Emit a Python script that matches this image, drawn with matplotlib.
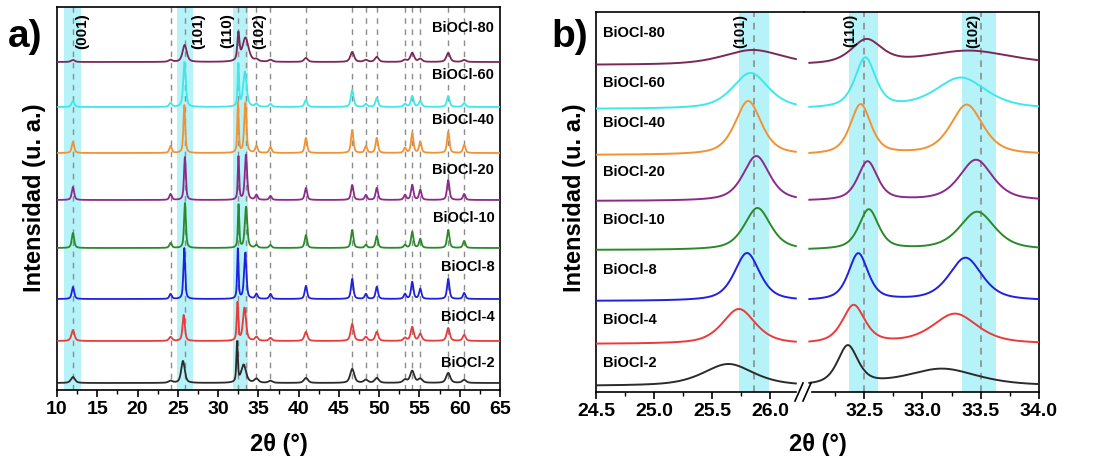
"""
XRD patterns of BiOCl samples: full range (a) and zoom on main reflections (b).
"""
import numpy as np
import matplotlib
matplotlib.use('Agg')
import matplotlib.pyplot as plt
from matplotlib.ticker import MultipleLocator, FixedLocator
from matplotlib.lines import Line2D

plt.rcParams['font.family'] = ['Liberation Sans', 'DejaVu Sans']
plt.rcParams['font.weight'] = 'bold'

SAMPLES = ['BiOCl-2', 'BiOCl-4', 'BiOCl-8', 'BiOCl-10',
           'BiOCl-20', 'BiOCl-40', 'BiOCl-60', 'BiOCl-80']
COLORS = ['#2b2b2b', '#ec3a3a', '#2020e0', '#2a8a2a',
          '#8b2a8b', '#f39232', '#3ee8ea', '#7b2859']

# reference reflections (2theta, deg)
REF_POS = [11.98, 24.10, 25.86, 32.50, 33.45, 34.76, 36.50, 40.90,
           46.65, 48.35, 49.70, 53.20, 54.10, 55.10, 58.57, 60.55]
# highlighted reflections in panel a
HKL_A = ['(001)', '(101)', '(110)', '(102)']
HKL_A_POS = [13.1, 27.55, 31.15, 35.15]
BANDS_A = [(10.9, 13.0), (24.85, 26.9), (31.8, 33.75)]

# main peak positions per sample
POS_101 = [25.64, 25.73, 25.80, 25.89, 25.88, 25.81, 25.83, 25.85]
POS_110 = [32.36, 32.41, 32.45, 32.54, 32.53, 32.47, 32.51, 32.52]
POS_102 = [33.17, 33.28, 33.37, 33.47, 33.46, 33.38, 33.33, 33.40]
# FWHM of the main peaks (deg)
W_101 = [0.52, 0.34, 0.26, 0.27, 0.27, 0.27, 0.37, 0.62]
W_110 = [0.21, 0.23, 0.20, 0.20, 0.20, 0.21, 0.21, 0.31]
W_102 = [0.72, 0.46, 0.34, 0.36, 0.34, 0.33, 0.52, 0.89]
# FWHM of the other reflections (deg)
W_OTHER = [0.60, 0.45, 0.35, 0.35, 0.35, 0.35, 0.40, 0.55]

# panel a peak heights (a.u.), same order as REF_POS
INT_A_2 = [6, 2, 22, 40, 18, 4, 2, 5, 14, 3, 5, 3, 12, 4, 10, 3]
INT_A_4 = [11, 4, 26, 38, 33, 4, 3, 9, 17, 4, 9, 3, 14, 7, 13, 6]
INT_A_8 = [12, 5, 51, 50, 46, 5, 5, 13, 20, 5, 12, 5, 17, 10, 20, 6]
INT_A_10 = [15, 5, 45, 43, 41, 3, 3, 13, 18, 3, 12, 3, 16, 9, 18, 7]
INT_A_20 = [13, 6, 43, 43, 45, 5, 4, 12, 15, 5, 12, 5, 15, 10, 20, 6]
INT_A_40 = [11, 7, 48, 50, 50, 7, 6, 15, 23, 7, 15, 5, 20, 11, 21, 8]
INT_A_60 = [6, 4, 45, 42, 35, 3, 3, 7, 17, 3, 9, 3, 11, 6, 11, 4]
INT_A_80 = [2, 2, 17, 27, 24, 2, 2, 4, 10, 2, 5, 2, 9, 3, 9, 2]
INT_A = [INT_A_2, INT_A_4, INT_A_8, INT_A_10, INT_A_20, INT_A_40, INT_A_60, INT_A_80]

# panel b peak heights (a.u.)
H_101 = [22, 35, 48, 42, 45, 54, 36, 15]
H_110 = [39, 38, 47, 40, 39, 50, 50, 24]
H_102 = [17, 30, 43, 38, 41, 50, 31, 14]
HKL_B_LEFT = [('(101)', 25.74)]
HKL_B_RIGHT = [('(110)', 32.38), ('(102)', 33.44)]
REF_B = [25.86, 32.50, 33.50]
BANDS_B = [(25.73, 25.99), (32.37, 32.62), (33.34, 33.63)]

# vertical stacking
OFFSETS_A = [7, 49, 91, 142, 190, 237, 283, 328]
OFFSETS_B = [6, 48, 91, 142, 191, 237, 283, 327]
LABEL_Y_A = [27, 73, 123, 172, 220, 270, 315, 362]
LABEL_Y_B = [29, 72, 122, 172, 220, 269, 309, 359]

BAND_COLOR = '#b6f3f8'
DASH_COLOR = '#8c8c8c'


def pseudo_voigt(x, x0, h, fwhm, eta=0.6):
    d = (x - x0) / (fwhm / 2.0)
    return h * (eta / (1 + d ** 2) + (1 - eta) * np.exp(-np.log(2) * d ** 2))


def pattern_a(x, i):
    pos = list(REF_POS)
    pos[2], pos[3], pos[4] = POS_101[i], POS_110[i], POS_102[i]
    widths = [W_OTHER[i]] * len(pos)
    widths[2], widths[3], widths[4] = W_101[i], W_110[i], W_102[i]
    y = np.zeros_like(x)
    for p, h, w in zip(pos, INT_A[i], widths):
        y += pseudo_voigt(x, p, h, w)
    return y


def pattern_b(x, i):
    y = pseudo_voigt(x, POS_101[i], H_101[i], W_101[i])
    y += pseudo_voigt(x, POS_110[i], H_110[i], W_110[i])
    y += pseudo_voigt(x, POS_102[i], H_102[i], W_102[i])
    return y


def style_axis(ax):
    ax.set_yticks([])
    ax.tick_params(axis='x', which='major', direction='out', length=5, width=1.2,
                   labelsize=14, pad=3)
    ax.tick_params(axis='x', which='minor', direction='out', length=3, width=1.0)
    for s in ax.spines.values():
        s.set_linewidth(1.2)
    for lab in ax.get_xticklabels():
        lab.set_fontweight('bold')


W, H = 1096, 462
fig = plt.figure(figsize=(W / 100, H / 100), dpi=100)

# ---------------- panel a ----------------
ax_a = fig.add_axes([57 / W, 72 / H, 443 / W, 383 / H])
x_a = np.linspace(10, 65, 4000)
for lo, hi in BANDS_A:
    ax_a.axvspan(lo, hi, color=BAND_COLOR, lw=0, zorder=0)
for p in REF_POS:
    ax_a.axvline(p, color=DASH_COLOR, lw=1.0, ls=(0, (4, 4)), zorder=1)
for i, name in enumerate(SAMPLES):
    ax_a.plot(x_a, OFFSETS_A[i] + pattern_a(x_a, i), color=COLORS[i], lw=1.3, zorder=3)
    ax_a.text(64.3, LABEL_Y_A[i], name, ha='right', va='center', fontsize=10.5,
              fontweight='bold', zorder=4)
for lab, p in zip(HKL_A, HKL_A_POS):
    ax_a.text(p, 377, lab, rotation=90, ha='center', va='top', fontsize=11,
              fontweight='bold', zorder=4)
ax_a.set_xlim(10, 65)
ax_a.set_ylim(0, 383)
ax_a.xaxis.set_major_locator(MultipleLocator(5))
ax_a.xaxis.set_minor_locator(MultipleLocator(2.5))
style_axis(ax_a)

# ---------------- panel b (broken axis) ----------------
ax_b1 = fig.add_axes([596 / W, 70 / H, 207.5 / W, 380 / H])
ax_b2 = fig.add_axes([803.5 / W, 70 / H, 235.5 / W, 380 / H])
x_b1 = np.linspace(24.5, 26.22, 600)
x_b2 = np.linspace(32.03, 34.0, 600)
for ax, xx, hkl in ((ax_b1, x_b1, HKL_B_LEFT), (ax_b2, x_b2, HKL_B_RIGHT)):
    for lo, hi in BANDS_B:
        ax.axvspan(lo, hi, color=BAND_COLOR, lw=0, zorder=0)
    for p in REF_B:
        ax.axvline(p, color=DASH_COLOR, lw=1.2, ls=(0, (4, 3.5)), zorder=1)
    for i in range(len(SAMPLES)):
        ax.plot(xx, OFFSETS_B[i] + pattern_b(xx, i), color=COLORS[i], lw=1.4, zorder=3)
    ax.set_ylim(0, 380)
    for lab, p in hkl:
        ax.text(p, 378, lab, rotation=90, ha='center', va='top', fontsize=10.5,
                fontweight='bold', zorder=4)
    ax.xaxis.set_major_formatter(plt.FormatStrFormatter('%.1f'))

ax_b1.set_xlim(24.5, 26.286)
ax_b2.set_xlim(31.98, 34.0)
ax_b1.xaxis.set_major_locator(FixedLocator([24.5, 25.0, 25.5, 26.0]))
ax_b1.xaxis.set_minor_locator(FixedLocator([24.75, 25.25, 25.75]))
ax_b2.xaxis.set_major_locator(FixedLocator([32.5, 33.0, 33.5, 34.0]))
ax_b2.xaxis.set_minor_locator(FixedLocator([32.25, 32.75, 33.25, 33.75]))
style_axis(ax_b1)
style_axis(ax_b2)
ax_b1.spines['right'].set_visible(False)
ax_b2.spines['left'].set_visible(False)
ax_b1.spines['bottom'].set_bounds(24.5, 26.22)
ax_b2.spines['bottom'].set_bounds(32.05, 34.0)
for i, name in enumerate(SAMPLES):
    ax_b1.text(24.56, LABEL_Y_B[i], name, ha='left', va='center', fontsize=10.5,
               fontweight='bold', zorder=4)

# break marks
for bx in (799, 807):
    fig.add_artist(Line2D([(bx - 4) / W, (bx + 4) / W], [(70 - 9) / H, (70 + 9) / H],
                          color='black', lw=1.2))

# labels
fig.text(278.5 / W, 17 / H, '2\u03b8 (\u00b0)', ha='center', va='center',
         fontsize=17, fontweight='bold')
fig.text(817.5 / W, 17 / H, '2\u03b8 (\u00b0)', ha='center', va='center',
         fontsize=17, fontweight='bold')
fig.text(35 / W, 264 / H, 'Intensidad (u. a.)', rotation=90, ha='center', va='center',
         fontsize=17, fontweight='bold')
fig.text(574 / W, 264 / H, 'Intensidad (u. a.)', rotation=90, ha='center', va='center',
         fontsize=17, fontweight='bold')
fig.text(8 / W, (H - 47) / H, 'a)', fontsize=28, fontweight='bold', va='baseline')
fig.text(551 / W, (H - 47) / H, 'b)', fontsize=28, fontweight='bold', va='baseline')

fig.savefig('out.png', dpi=100)
